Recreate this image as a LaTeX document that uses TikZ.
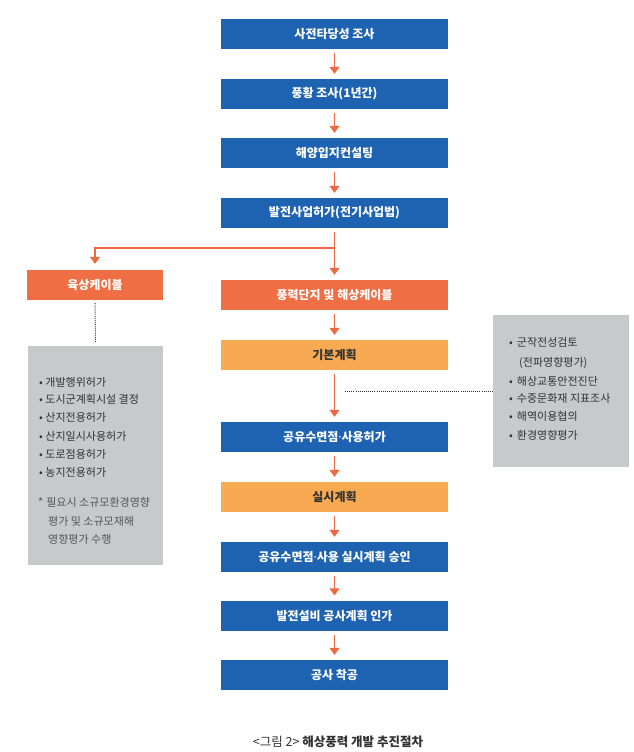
\documentclass[tikz,border=0pt]{standalone}
\usepackage{fontspec}
\setmainfont{Noto Sans CJK KR}
\newfontfamily\latinf{Noto Sans}
\newcommand{\mdot}{{\latinf ·}}
\usetikzlibrary{arrows.meta}
\definecolor{cblue}{RGB}{30,98,178}
\definecolor{corange}{RGB}{240,110,68}
\definecolor{clight}{RGB}{248,170,82}
\definecolor{cgray}{RGB}{200,201,203}
\definecolor{carrow}{RGB}{238,104,64}
\definecolor{ctext}{RGB}{50,50,50}
\definecolor{cnote}{RGB}{85,85,85}
\begin{document}
\begin{tikzpicture}[x=1pt,y=-1pt,
  box/.style={minimum width=227pt, minimum height=30pt, inner sep=0pt,
    font=\fontsize{12}{14}\selectfont\bfseries, text=white},
  bluebox/.style={box, fill=cblue},
  orbox/.style={box, fill=corange},
  ltbox/.style={box, fill=clight, text=ctext},
  graybox/.style={fill=cgray, inner sep=0pt},
  flow/.style={draw=carrow, line width=1.4pt, -{Triangle[width=10pt,length=7pt]}},
  dots/.style={draw=ctext, line width=1pt, dash pattern=on 1pt off 1.1pt},
  ltxt/.style={anchor=west, inner sep=0pt, text height=8pt, text depth=2pt,
    font=\fontsize{11}{13}\selectfont, text=ctext},
  ntxt/.style={ltxt, text=cnote},
]
\useasboundingbox (0,0) rectangle (634,752);
% main column
\node[bluebox] (b1) at (334.5,34) {사전타당성 조사};
\node[bluebox] (b2) at (334.5,94) {풍황 조사(1년간)};
\node[bluebox] (b3) at (334.5,153) {해양입지컨설팅};
\node[bluebox] (b4) at (334.5,213) {발전사업허가(전기사업법)};
\node[orbox] (b5) at (334.5,295) {풍력단지 및 해상케이블};
\node[ltbox] (b6) at (334.5,355) {기본계획};
\node[bluebox] (b7) at (334.5,437) {공유수면점\mdot 사용허가};
\node[ltbox] (b8) at (334.5,497) {실시계획};
\node[bluebox] (b9) at (334.5,557) {공유수면점\mdot 사용 실시계획 승인};
\node[bluebox] (b10) at (334.5,615.5) {발전설비 공사계획 인가};
\node[bluebox] (b11) at (334.5,675) {공사 착공};
% left branch
\node[orbox, minimum width=136pt] (lc) at (95,285) {육상케이블};
\node[graybox, minimum width=135pt, minimum height=219pt] (lg) at (95.5,455.5) {};
% right gray
\node[graybox, minimum width=136pt, minimum height=152pt] (rg) at (561,391) {};
% arrows
\foreach \a/\b in {b1/b2,b2/b3,b3/b4,b4/b5,b5/b6,b6/b7,b7/b8,b8/b9,b9/b10,b10/b11}
  \draw[flow] ([yshift=-4pt]\a.south) -- ([yshift=5pt]\b.north);
\coordinate (br) at (334.5,248);
\draw[flow] (br) -| ([yshift=6pt]lc.north);
\draw[dots] ([yshift=-3pt]lc.south) -- ([yshift=3pt]lg.north);
\coordinate (dstart) at (345,391);
\draw[dots] (dstart) -- (rg.west);
% left text
\node[ltxt] (l1) at (39,383) {•\hspace{2.5pt}개발행위허가};
\node[ltxt] (l2) at (39,400) {•\hspace{2.5pt}도시군계획시설 결정};
\node[ltxt] (l3) at (39,418) {•\hspace{2.5pt}산지전용허가};
\node[ltxt] (l4) at (39,437) {•\hspace{2.5pt}산지일시사용허가};
\node[ltxt] (l5) at (39,455) {•\hspace{2.5pt}도로점용허가};
\node[ltxt] (l6) at (39,473) {•\hspace{2.5pt}농지전용허가};
\node[ntxt] (n1) at (38,503) {*\hspace{3pt}필요시 소규모환경영향};
\node[ntxt] (n2) at (48,522) {평가 및 소규모재해};
\node[ntxt] (n3) at (48,540) {영향평가 수행};
% right text
\node[ltxt] (r1) at (509,343) {•\hspace{4pt}군작전성검토};
\node[ltxt] (r2) at (519,363) {(전파영향평가)};
\node[ltxt] (r3) at (509,382) {•\hspace{4pt}해상교통안전진단};
\node[ltxt] (r4) at (509,399) {•\hspace{4pt}수중문화재 지표조사};
\node[ltxt] (r5) at (509,417) {•\hspace{4pt}해역이용협의};
\node[ltxt] (r6) at (509,436) {•\hspace{4pt}환경영향평가};
% caption
\node[font=\fontsize{12.5}{14}\selectfont, text=ctext] (cap) at (338,742) {<그림 2> {\bfseries 해상풍력 개발 추진절차}};
\end{tikzpicture}
\end{document}
